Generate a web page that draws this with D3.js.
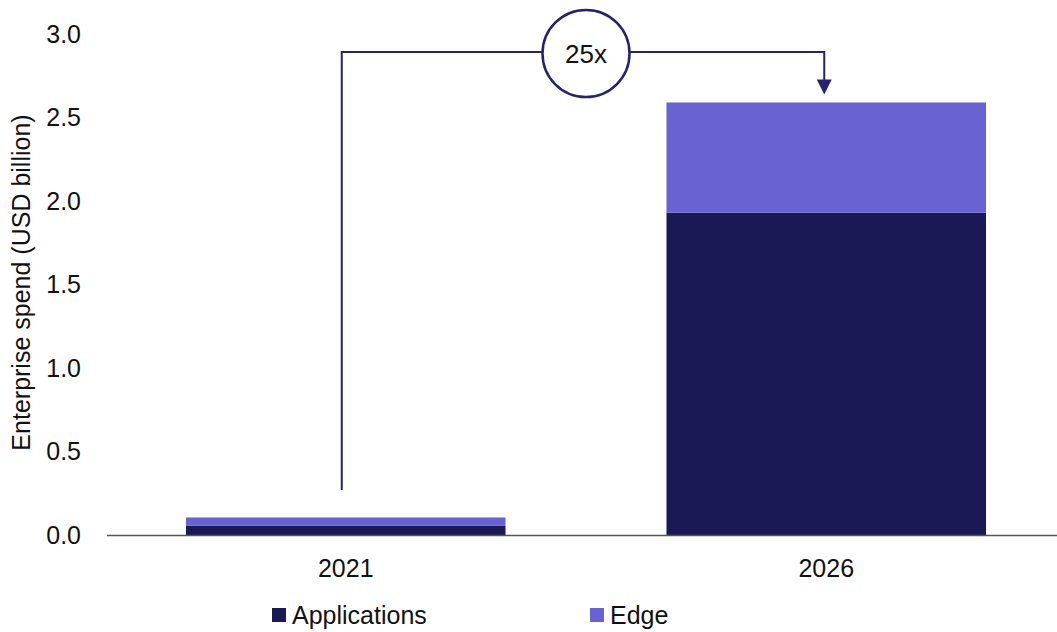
<!DOCTYPE html>
<html>
<head>
<meta charset="utf-8">
<script src="https://cdn.jsdelivr.net/npm/d3@7"></script>
<style>
  body { margin: 0; background: #fff; }
  text { font-family: "Liberation Sans", Arial, sans-serif; fill: #111; }
</style>
</head>
<body>
<div id="chart"></div>
<script>
// stacked bars: enterprise spend, 2021 vs 2026
const years = ["2021", "2026"];
const applications = [0.055, 1.93];
const edge = [0.05, 0.66];
const seriesNames = ["Applications", "Edge"];
const yTicks = [0, 0.5, 1.0, 1.5, 2.0, 2.5, 3.0];
const growthLabel = "25x";

const width = 1057, height = 632;
const colors = { Applications: "#1b1856", Edge: "#6862d2" };

const svg = d3.select("#chart").append("svg")
    .attr("width", width)
    .attr("height", height);

const x = d3.scaleBand()
    .domain(years)
    .range([105.5, 1066.5])
    .paddingInner(0.335)
    .paddingOuter(0.1675);

const y = d3.scaleLinear()
    .domain([0, 3])
    .range([535, 34]);

const rows = years.map((yr, i) => ({ year: yr, Applications: applications[i], Edge: edge[i] }));
const stack = d3.stack().keys(seriesNames)(rows);

// y tick labels
svg.append("g")
    .selectAll("text")
    .data(yTicks)
    .enter()
    .append("text")
    .attr("x", 81)
    .attr("y", d => y(d))
    .attr("dy", "0.35em")
    .attr("text-anchor", "end")
    .style("font-size", "25px")
    .text(d => d.toFixed(1));

svg.append("text")
    .attr("transform", "translate(30," + (y(1.5) - 2) + ") rotate(-90)")
    .attr("text-anchor", "middle")
    .style("font-size", "25px")
    .text("Enterprise spend (USD billion)");

// bars
svg.append("g")
    .selectAll("g")
    .data(stack)
    .enter()
    .append("g")
    .attr("fill", d => colors[d.key])
    .selectAll("rect")
    .data(d => d)
    .enter()
    .append("rect")
    .attr("x", d => x(d.data.year))
    .attr("width", x.bandwidth())
    .attr("y", d => y(d[1]))
    .attr("height", d => y(d[0]) - y(d[1]));

// baseline
svg.append("line")
    .attr("x1", 107)
    .attr("x2", width)
    .attr("y1", y(0) + 0.5)
    .attr("y2", y(0) + 0.5)
    .attr("stroke", "#555")
    .attr("stroke-width", 1.5);

// year labels
svg.append("g")
    .selectAll("text")
    .data(years)
    .enter()
    .append("text")
    .attr("x", d => x(d) + x.bandwidth() / 2)
    .attr("y", 577)
    .attr("text-anchor", "middle")
    .style("font-size", "25px")
    .text(d => d);

// growth annotation
const lineColor = "#26226f";
const xa = x(years[0]) + x.bandwidth() / 2 - 4;
const xb = x(years[1]) + x.bandwidth() / 2 - 2;
const top1 = y(applications[1] + edge[1]);
const yLine = 52;
const cx = (xa + xb) / 2 + 3, r = 43.5;

svg.append("path")
    .attr("d", "M" + xa + "," + 490 + "V" + yLine + "H" + (cx - r))
    .attr("fill", "none")
    .attr("stroke", lineColor)
    .attr("stroke-width", 2);
svg.append("path")
    .attr("d", "M" + (cx + r) + "," + yLine + "H" + xb + "V" + (top1 - 22))
    .attr("fill", "none")
    .attr("stroke", lineColor)
    .attr("stroke-width", 2);
svg.append("path")
    .attr("d", "M" + (xb - 7.5) + "," + (top1 - 23) + "L" + (xb + 7.5) + "," + (top1 - 23) + "L" + xb + "," + (top1 - 8) + "Z")
    .attr("fill", lineColor);
svg.append("circle")
    .attr("cx", cx)
    .attr("cy", yLine + 1.5)
    .attr("r", r)
    .attr("fill", "#fff")
    .attr("stroke", lineColor)
    .attr("stroke-width", 2.5);
svg.append("text")
    .attr("x", cx)
    .attr("y", yLine + 1.5)
    .attr("dy", "0.35em")
    .attr("text-anchor", "middle")
    .style("font-size", "26px")
    .text(growthLabel);

// legend
const legendX = [272, 590];
const legend = svg.append("g")
    .selectAll("g")
    .data(seriesNames)
    .enter()
    .append("g")
    .attr("transform", (d, i) => "translate(" + legendX[i] + ",608)");
legend.append("rect")
    .attr("width", 14)
    .attr("height", 14)
    .attr("fill", d => colors[d]);
legend.append("text")
    .attr("x", 20)
    .attr("y", 7)
    .attr("dy", "0.35em")
    .style("font-size", "25px")
    .text(d => d);
</script>
</body>
</html>
